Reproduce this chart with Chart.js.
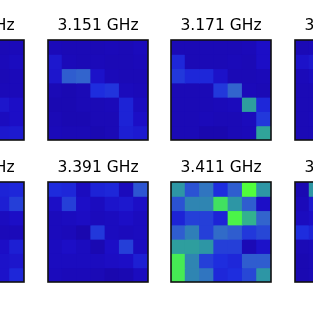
<!DOCTYPE html>
<html>
<head>
<meta charset="utf-8">
<script src="https://cdn.jsdelivr.net/npm/chart.js@4.4.1/dist/chart.umd.min.js"></script>
<style>
    html, body { margin: 0; padding: 0; background: #fff; width: 313px; height: 313px; overflow: hidden; }
    .panel { position: absolute; }
</style>
</head>
<body>
<div id="wrap"></div>
<script>
// ── Data ───────────────────────────────────────────────────
const freqsTop    = ['3.131 GHz', '3.151 GHz', '3.171 GHz', '3.191 GHz'];
const freqsBottom = ['3.371 GHz', '3.391 GHz', '3.411 GHz', '3.431 GHz'];
const cellIndex   = ['0', '1', '2', '3', '4', '5', '6'];

// rows top → bottom, columns left → right (normalised intensity 0..1)
const grid3131 = [
    [0.05, 0.05, 0.05, 0.05, 0.05, 0.05, 0.06],
    [0.05, 0.05, 0.05, 0.05, 0.05, 0.06, 0.08],
    [0.05, 0.05, 0.05, 0.05, 0.05, 0.05, 0.06],
    [0.05, 0.05, 0.05, 0.05, 0.05, 0.06, 0.06],
    [0.05, 0.05, 0.05, 0.05, 0.05, 0.14, 0.10],
    [0.05, 0.05, 0.05, 0.05, 0.05, 0.08, 0.10],
    [0.05, 0.05, 0.05, 0.05, 0.05, 0.15, 0.16]
];
const grid3151 = [
    [0.06, 0.05, 0.05, 0.05, 0.06, 0.05, 0.07],
    [0.15, 0.06, 0.05, 0.06, 0.05, 0.05, 0.06],
    [0.14, 0.38, 0.40, 0.12, 0.06, 0.05, 0.05],
    [0.05, 0.04, 0.05, 0.25, 0.27, 0.07, 0.06],
    [0.04, 0.04, 0.05, 0.05, 0.06, 0.20, 0.08],
    [0.05, 0.04, 0.04, 0.05, 0.05, 0.20, 0.10],
    [0.06, 0.05, 0.05, 0.04, 0.05, 0.18, 0.16]
];
const grid3171 = [
    [0.05, 0.05, 0.05, 0.05, 0.05, 0.06, 0.10],
    [0.22, 0.05, 0.05, 0.05, 0.06, 0.05, 0.10],
    [0.28, 0.22, 0.22, 0.12, 0.05, 0.05, 0.06],
    [0.05, 0.05, 0.05, 0.28, 0.40, 0.06, 0.05],
    [0.05, 0.05, 0.05, 0.06, 0.07, 0.58, 0.22],
    [0.05, 0.05, 0.06, 0.05, 0.05, 0.07, 0.28],
    [0.05, 0.05, 0.03, 0.03, 0.05, 0.06, 0.60]
];
const grid3191 = [
    [0.05, 0.06, 0.05, 0.05, 0.05, 0.05, 0.05],
    [0.12, 0.15, 0.05, 0.05, 0.05, 0.05, 0.05],
    [0.06, 0.08, 0.05, 0.05, 0.05, 0.05, 0.05],
    [0.05, 0.05, 0.05, 0.05, 0.05, 0.05, 0.05],
    [0.05, 0.05, 0.05, 0.05, 0.05, 0.05, 0.05],
    [0.05, 0.06, 0.05, 0.05, 0.05, 0.05, 0.05],
    [0.05, 0.05, 0.05, 0.05, 0.05, 0.05, 0.05]
];
const grid3371 = [
    [0.05, 0.05, 0.05, 0.05, 0.05, 0.20, 0.22],
    [0.05, 0.05, 0.05, 0.05, 0.05, 0.18, 0.30],
    [0.05, 0.05, 0.05, 0.05, 0.05, 0.08, 0.10],
    [0.05, 0.05, 0.05, 0.05, 0.05, 0.06, 0.06],
    [0.05, 0.05, 0.05, 0.05, 0.05, 0.10, 0.18],
    [0.05, 0.05, 0.05, 0.05, 0.05, 0.12, 0.14],
    [0.05, 0.05, 0.05, 0.05, 0.05, 0.12, 0.22]
];
const grid3391 = [
    [0.24, 0.22, 0.08, 0.20, 0.22, 0.07, 0.36],
    [0.10, 0.30, 0.10, 0.08, 0.13, 0.15, 0.10],
    [0.07, 0.08, 0.09, 0.07, 0.08, 0.10, 0.08],
    [0.07, 0.06, 0.03, 0.28, 0.08, 0.07, 0.08],
    [0.08, 0.10, 0.08, 0.04, 0.10, 0.30, 0.08],
    [0.08, 0.08, 0.08, 0.08, 0.09, 0.10, 0.18],
    [0.07, 0.06, 0.06, 0.05, 0.03, 0.04, 0.08]
];
const grid3411 = [
    [0.55, 0.35, 0.45, 0.25, 0.38, 1.00, 0.55],
    [0.35, 0.50, 0.50, 0.85, 0.55, 0.38, 0.10],
    [0.20, 0.30, 0.30, 0.20, 0.95, 0.65, 0.40],
    [0.38, 0.48, 0.30, 0.42, 0.38, 0.28, 0.32],
    [0.58, 0.58, 0.55, 0.30, 0.30, 0.05, 0.12],
    [0.90, 0.50, 0.30, 0.25, 0.22, 0.38, 0.38],
    [0.90, 0.50, 0.45, 0.22, 0.25, 0.32, 0.55]
];
const grid3431 = [
    [0.04, 0.55, 0.05, 0.05, 0.05, 0.05, 0.05],
    [0.06, 0.15, 0.05, 0.05, 0.05, 0.05, 0.05],
    [0.08, 0.10, 0.05, 0.05, 0.05, 0.05, 0.05],
    [0.25, 0.20, 0.05, 0.05, 0.05, 0.05, 0.05],
    [0.05, 0.06, 0.05, 0.05, 0.05, 0.05, 0.05],
    [0.04, 0.05, 0.05, 0.05, 0.05, 0.05, 0.05],
    [0.04, 0.05, 0.05, 0.05, 0.05, 0.05, 0.05]
];

const gridsTop    = [grid3131, grid3151, grid3171, grid3191];
const gridsBottom = [grid3371, grid3391, grid3411, grid3431];

// ── Colour map (dark blue → teal → green) ──────────────────
const cmapStops = [
    [0.00, [25, 5, 165]],
    [0.10, [28, 14, 198]],
    [0.25, [30, 45, 222]],
    [0.40, [50, 100, 205]],
    [0.55, [45, 150, 165]],
    [0.75, [55, 205, 120]],
    [1.00, [80, 255, 60]]
];

function colorFor(v) {
    v = Math.max(0, Math.min(1, v));
    for (let i = 1; i < cmapStops.length; i++) {
        const [t1, c1] = cmapStops[i];
        const [t0, c0] = cmapStops[i - 1];
        if (v <= t1) {
            const f = (v - t0) / (t1 - t0);
            const c = c0.map((a, k) => Math.round(a + (c1[k] - a) * f));
            return `rgb(${c[0]},${c[1]},${c[2]})`;
        }
    }
    return 'rgb(80,255,60)';
}

// ── Frame around each image ────────────────────────────────
const framePlugin = {
    id: 'frame',
    afterDraw(chart) {
        const { ctx, chartArea: a } = chart;
        ctx.save();
        ctx.strokeStyle = '#111';
        ctx.lineWidth = 1.6;
        ctx.strokeRect(a.left, a.top, a.right - a.left, a.bottom - a.top);
        ctx.restore();
    }
};

// ── One panel ──────────────────────────────────────────────
function makePanel(left, top, title, grid) {
    const canvas = document.createElement('canvas');
    canvas.className = 'panel';
    canvas.width = 102;
    canvas.height = 141;
    canvas.style.left = left + 'px';
    canvas.style.top = top + 'px';
    document.getElementById('wrap').appendChild(canvas);

    const datasets = grid.map((row, r) => ({
        data: row.map(() => [r, r + 1]),
        backgroundColor: row.map(v => colorFor(v)),
        borderWidth: 0,
        barPercentage: 1,
        categoryPercentage: 1,
        grouped: false,
        inflateAmount: 0.5
    }));

    new Chart(canvas, {
        type: 'bar',
        data: { labels: cellIndex, datasets },
        options: {
            responsive: false,
            animation: false,
            layout: { padding: { left: 1, right: 1, top: 0, bottom: 1 } },
            scales: {
                x: { type: 'category', display: false },
                y: { type: 'linear', min: 0, max: 7, reverse: true, display: false }
            },
            plugins: {
                legend: { display: false },
                tooltip: { enabled: false },
                title: {
                    display: true,
                    text: title,
                    color: '#000',
                    font: { family: 'DejaVu Sans', size: 15.5, weight: 'normal' },
                    padding: { top: 16.5, bottom: 4.9 }
                }
            }
        },
        plugins: [framePlugin]
    });
}

// ── Layout ─────────────────────────────────────────────────
const panelLefts = [-77, 47, 170, 294];
freqsTop.forEach((f, i) => makePanel(panelLefts[i], 0, f, gridsTop[i]));
freqsBottom.forEach((f, i) => makePanel(panelLefts[i], 142, f, gridsBottom[i]));
</script>
</body>
</html>
